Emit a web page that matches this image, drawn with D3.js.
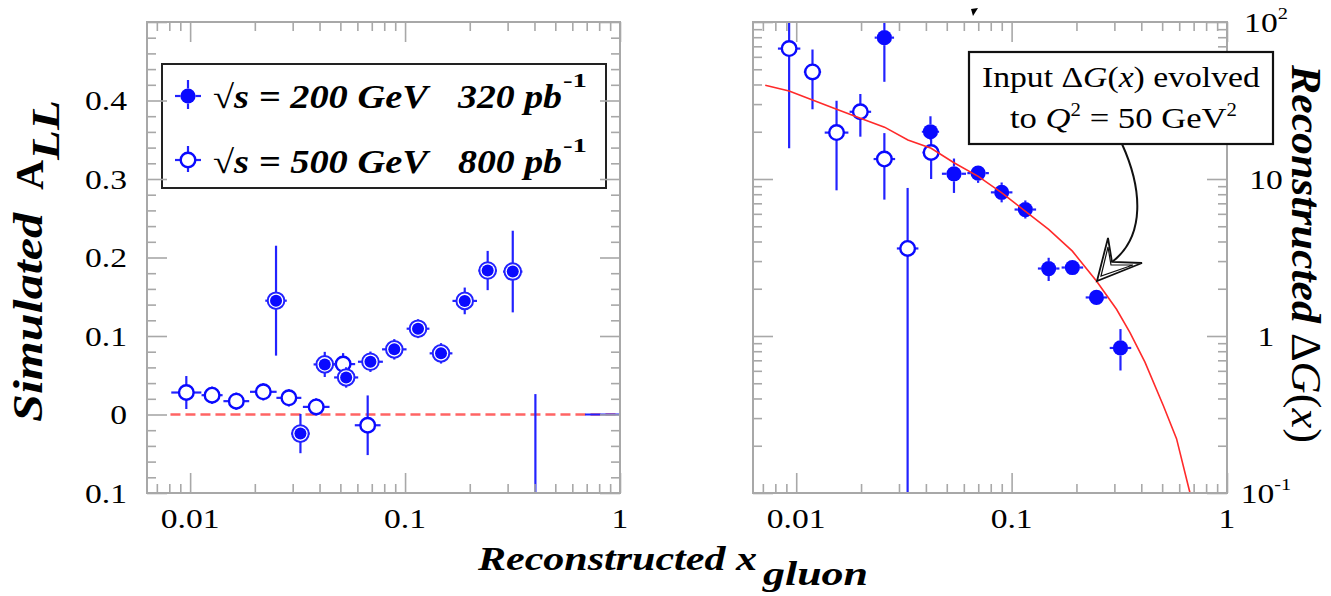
<!DOCTYPE html>
<html>
<head>
<meta charset="utf-8">
<script src="https://d3js.org/d3.v7.min.js"></script>
<style>
body { margin: 0; background: #fff; }
text { font-family: "Liberation Serif", "DejaVu Serif", serif; fill: #000; }
</style>
</head>
<body>
<div id="chart"></div>
<script>
// ---------- data ----------
// left panel : simulated A_LL vs reconstructed x_gluon
const allX200  = [0.0251, 0.0326, 0.0423, 0.0532, 0.069, 0.0891, 0.1149, 0.147, 0.1895, 0.2423, 0.317]
const allY200  = [0.145, -0.0243, 0.0638, 0.0472, 0.0672, 0.083, 0.1093, 0.0779, 0.1447, 0.1834, 0.1821]
const allE200  = [0.070, 0.025, 0.016, 0.013, 0.013, 0.013, 0.012, 0.013, 0.017, 0.025, 0.052]
const allXE200 = [0.05, 0.043, 0.052, 0.056, 0.058, 0.057, 0.053, 0.053, 0.057, 0.043, 0.045]   // half bin width, dex

const allX500  = [0.0096, 0.01265, 0.0164, 0.0219, 0.0288, 0.0386, 0.0515, 0.067, 0.404, 1.3]
const allY500  = [0.028, 0.0246, 0.017, 0.0289, 0.0212, 0.0097, 0.0642, -0.0137, -0.2, 0]
const allE500  = [0.021, 0.011, 0.011, 0.011, 0.011, 0.011, 0.014, 0.038, 0.226, 0]
const allXE500 = [0.07, 0.049, 0.06, 0.062, 0.058, 0.062, 0.056, 0.06, 0, 0.277]

// right panel : reconstructed Delta G(x)
const dgX200  = [0.02566, 0.042, 0.054, 0.0699, 0.0899, 0.1158, 0.1486, 0.1915, 0.2477, 0.3202]
const dgY200  = [79.5, 20.0, 10.8, 10.9, 8.22, 6.39, 2.69, 2.73, 1.76, 0.839]
const dgLo200 = [41.6, 17.7, 8.15, 9.45, 7.1, 5.6, 2.24, 2.6, 1.68, 0.603]
const dgHi200 = [150, 25.1, 13.5, 12.0, 9.5, 7.3, 3.15, 2.9, 1.85, 1.107]
const dgXE200 = [0.045, 0.04, 0.056, 0.05, 0.05, 0.05, 0.05, 0.05, 0.05, 0.05]

const dgX500  = [0.00927, 0.0119, 0.01539, 0.01985, 0.02566, 0.0329, 0.0423]
const dgY500  = [67.7, 48.1, 19.75, 26.8, 13.4, 3.61, 14.75]
const dgLo500 = [15.7, 27.8, 8.47, 18.6, 7.39, 0.01, 10.0]
const dgHi500 = [150, 66.8, 31.5, 34.8, 19.6, 8.77, 18.5]
const dgXE500 = [0.052, 0.04, 0.055, 0.05, 0.05, 0.05, 0.04]

// input Delta G(x) evolved to Q^2 = 50 GeV^2
const curveX = [0.00718, 0.00927, 0.0119, 0.0154, 0.01985, 0.0257, 0.033, 0.0423, 0.054, 0.070, 0.0901, 0.116, 0.1486, 0.1915, 0.2477, 0.307, 0.354, 0.416, 0.506, 0.583, 0.668, 0.68]
const curveY = [39.6, 36.3, 31.8, 27.8, 24.4, 21.4, 17.7, 15.7, 12.7, 10.4, 8.15, 6.23, 4.77, 3.47, 2.24, 1.48, 1.055, 0.681, 0.361, 0.222, 0.1045, 0.095]

// tick labels
const xLabelVals = [0.01, 0.1, 1]
const xLabels    = ['0.01', '0.1', '1']
const aLabelVals = [-0.1, 0, 0.1, 0.2, 0.3, 0.4]
const aLabels    = ['0.1', '0', '0.1', '0.2', '0.3', '0.4']
const gLabelVals = [100, 10, 1, 0.1]
const gLabels    = ['10', '10', '1', '10']
const gLabelSup  = ['2', '', '', '-1']

// ---------- setup ----------
const width = 1331, height = 596
const blue = '#0a0aff', barBlue = '#2222ff', gray = '#a8a8a8'

const svg = d3.select('#chart').append('svg')
    .attr('width', width)
    .attr('height', height)

const xL = d3.scaleLog().domain([0.0063, 1]).range([147, 620])
const yL = d3.scaleLinear().domain([-0.1, 0.5]).range([493, 22])
const xR = d3.scaleLog().domain([0.0063, 1]).range([753, 1227])
const yR = d3.scaleLog().domain([0.1, 100]).range([493, 22])

const defs = svg.append('defs')
function clip(id, x, y) {
  defs.append('clipPath').attr('id', id).append('rect')
    .attr('x', x.range()[0]).attr('y', y.range()[1])
    .attr('width', x.range()[1] - x.range()[0])
    .attr('height', y.range()[0] - y.range()[1])
}
clip('clipL', xL, yL)
clip('clipR', xR, yR)

const isDecade = v => Math.abs(Math.log10(v) - Math.round(Math.log10(v))) < 1e-6

// fit a text to a given length (the reference fonts are wide)
function fit(parent, x, y, len, build, rot) {
  const g = parent.append('g')
  const t = g.append('text').attr('x', 0).attr('y', 0)
  build(t)
  const w = t.node().getComputedTextLength()
  g.attr('transform', `translate(${x},${y}) rotate(${rot || 0}) scale(${len / w},1)`)
  return g
}

function tickSet(g, axisFn, scale, vals, size, tr) {
  g.append('g').attr('transform', tr)
    .call(axisFn(scale).tickValues(vals).tickSizeInner(-size).tickSizeOuter(0).tickFormat(''))
    .call(a => a.select('.domain').remove())
    .call(a => a.selectAll('line').attr('stroke', gray).attr('stroke-width', 1.6))
}

function frame(g, x, y, yMinor, yMajor) {
  const xt = x.ticks()
  const xMin = xt.filter(v => !isDecade(v)), xMaj = xt.filter(isDecade)
  const [x0, x1] = x.range(), [y1, y0] = y.range()
  tickSet(g, d3.axisBottom, x, xMin, 9, `translate(0,${y1})`)
  tickSet(g, d3.axisBottom, x, xMaj, 20, `translate(0,${y1})`)
  tickSet(g, d3.axisTop, x, xMin, 9, `translate(0,${y0})`)
  tickSet(g, d3.axisTop, x, xMaj, 20, `translate(0,${y0})`)
  tickSet(g, d3.axisLeft, y, yMinor, 9, `translate(${x0},0)`)
  tickSet(g, d3.axisLeft, y, yMajor, 20, `translate(${x0},0)`)
  tickSet(g, d3.axisRight, y, yMinor, 9, `translate(${x1},0)`)
  tickSet(g, d3.axisRight, y, yMajor, 20, `translate(${x1},0)`)
  g.append('rect')
    .attr('x', x0).attr('y', y0).attr('width', x1 - x0).attr('height', y1 - y0)
    .attr('fill', 'none').attr('stroke', gray).attr('stroke-width', 2)
  // x tick labels
  xLabelVals.forEach((v, i) => {
    g.append('g').attr('transform', `translate(${x(v)},${y1 + 35}) scale(1.2,1)`)
      .append('text').attr('text-anchor', 'middle').attr('font-size', 28).text(xLabels[i])
  })
}

function point(g, cx, cy, yTop, yBot, xLeft, xRight, type) {
  const r = type === 'ring' ? 8.5 : 7.5
  const seg = (a, b, c, d) => g.append('line')
    .attr('x1', a).attr('y1', b).attr('x2', c).attr('y2', d)
    .attr('stroke', barBlue).attr('stroke-width', 2.2)
  if (cy - yTop > r) seg(cx, cy - r, cx, yTop)
  if (yBot - cy > r) seg(cx, cy + r, cx, yBot)
  if (cx - xLeft > r) seg(cx - r, cy, xLeft, cy)
  if (xRight - cx > r) seg(cx + r, cy, xRight, cy)
  if (type === 'ring') {
    g.append('circle').attr('cx', cx).attr('cy', cy).attr('r', 8.3)
      .attr('fill', '#fff').attr('stroke', barBlue).attr('stroke-width', 2)
    g.append('circle').attr('cx', cx).attr('cy', cy).attr('r', 6).attr('fill', blue)
  } else if (type === 'open') {
    g.append('circle').attr('cx', cx).attr('cy', cy).attr('r', 7.3)
      .attr('fill', 'none').attr('stroke', blue).attr('stroke-width', 2.4)
  } else {
    g.append('circle').attr('cx', cx).attr('cy', cy).attr('r', 7.6).attr('fill', blue)
  }
}

// ---------- left panel ----------
const left = svg.append('g')

// legend
left.append('rect').attr('x', 162).attr('y', 64).attr('width', 444).attr('height', 124)
  .attr('fill', '#fff').attr('stroke', '#222').attr('stroke-width', 2)
point(left, 188, 96, 80, 109, 175, 201, 'dot')
point(left, 188, 160, 146, 172, 175, 201, 'open')
const legRows = [['200', '320', 108, 87], ['500', '800', 173, 152]]
legRows.forEach(([e, l, base, sup]) => {
  fit(left, 213, base, 215, t => {
    t.attr('font-size', 33).attr('font-weight', 'bold').attr('font-style', 'italic')
    t.append('tspan').attr('font-style', 'normal').attr('font-weight', 'normal').text('\u221A')
    t.append('tspan').text('s = ' + e + ' GeV')
  })
  fit(left, 458, base, 104, t => t.attr('font-size', 33).attr('font-weight', 'bold')
    .attr('font-style', 'italic').text(l + ' pb'))
  fit(left, 563, sup, 24, t => t.attr('font-size', 19).attr('font-weight', 'bold').text('-1'))
})

const lData = left.append('g').attr('clip-path', 'url(#clipL)')
lData.append('line')
  .attr('x1', xL(0.0081)).attr('x2', xL(1)).attr('y1', yL(0)).attr('y2', yL(0))
  .attr('stroke', '#ff6464').attr('stroke-width', 2.5).attr('stroke-dasharray', '10,5')
allX500.forEach((x, i) => point(lData, xL(x), yL(allY500[i]),
  yL(allY500[i] + allE500[i]), yL(allY500[i] - allE500[i]),
  xL(x / Math.pow(10, allXE500[i])), xL(x * Math.pow(10, allXE500[i])), 'open'))
allX200.forEach((x, i) => point(lData, xL(x), yL(allY200[i]),
  yL(allY200[i] + allE200[i]), yL(allY200[i] - allE200[i]),
  xL(x / Math.pow(10, allXE200[i])), xL(x * Math.pow(10, allXE200[i])), 'ring'))

const aT = yL.ticks(30)
frame(left, xL, yL, aT.filter(v => Math.abs(v * 10 - Math.round(v * 10)) > 1e-6),
  aT.filter(v => Math.abs(v * 10 - Math.round(v * 10)) < 1e-6))
aLabelVals.forEach((v, i) => {
  left.append('g').attr('transform', `translate(127,${yL(v) + 9.5}) scale(1.2,1)`)
    .append('text').attr('text-anchor', 'end').attr('font-size', 28).text(aLabels[i])
})

// left axis title
fit(left, 42, 422, 209, t => t.attr('font-size', 42).attr('font-weight', 'bold')
  .attr('font-style', 'italic').text('Simulated'), -90)
fit(left, 43, 190, 30, t => t.attr('font-size', 40).attr('font-weight', 'bold').text('A'), -90)
fit(left, 59, 160, 60, t => t.attr('font-size', 40).attr('font-weight', 'bold')
  .attr('font-style', 'italic').text('LL'), -90)

// bottom title
fit(svg, 478, 570, 279, t => t.attr('font-size', 34).attr('font-weight', 'bold')
  .attr('font-style', 'italic').text('Reconstructed x'))
fit(svg, 763, 585, 105, t => t.attr('font-size', 34).attr('font-weight', 'bold')
  .attr('font-style', 'italic').text('gluon'))

// ---------- right panel ----------
const right = svg.append('g')
const rData = right.append('g').attr('clip-path', 'url(#clipR)')
dgX500.forEach((x, i) => point(rData, xR(x), yR(dgY500[i]), yR(dgHi500[i]), yR(dgLo500[i]),
  xR(x / Math.pow(10, dgXE500[i])), xR(x * Math.pow(10, dgXE500[i])), 'open'))
dgX200.forEach((x, i) => point(rData, xR(x), yR(dgY200[i]), yR(dgHi200[i]), yR(dgLo200[i]),
  xR(x / Math.pow(10, dgXE200[i])), xR(x * Math.pow(10, dgXE200[i])), 'dot'))

const curve = d3.line().x(d => xR(d[0])).y(d => yR(d[1]))
rData.append('path')
  .datum(curveX.map((x, i) => [x, curveY[i]]))
  .attr('d', curve)
  .attr('fill', 'none').attr('stroke', '#ff2a2a').attr('stroke-width', 1.6)

const gT = yR.ticks()
frame(right, xR, yR, gT.filter(v => !isDecade(v)), gT.filter(isDecade))
gLabelVals.forEach((v, i) => {
  const t = right.append('g').attr('transform', `translate(1266,${yR(v) + 10}) scale(1.2,1)`)
    .append('text').attr('text-anchor', 'middle').attr('font-size', 28)
  t.append('tspan').text(gLabels[i])
  if (gLabelSup[i]) t.append('tspan').attr('dy', -13).attr('font-size', 17).text(gLabelSup[i])
})

// right axis title
fit(right, 1292, 65, 258, t => t.attr('font-size', 42).attr('font-weight', 'bold')
  .attr('font-style', 'italic').text('Reconstructed'), 90)
fit(right, 1292, 333, 110, t => {
  t.attr('font-size', 42)
  t.append('tspan').text('\u0394')
  t.append('tspan').attr('font-style', 'italic').text('G')
  t.append('tspan').text('(')
  t.append('tspan').attr('font-style', 'italic').text('x')
  t.append('tspan').text(')')
}, 90)

// annotation box and arrow
right.append('rect').attr('x', 969).attr('y', 52).attr('width', 304).attr('height', 92)
  .attr('fill', '#fff').attr('stroke', '#111').attr('stroke-width', 2.2)
fit(right, 982, 87, 278, t => {
  t.attr('font-size', 30)
  t.append('tspan').text('Input \u0394')
  t.append('tspan').attr('font-style', 'italic').text('G')
  t.append('tspan').text('(')
  t.append('tspan').attr('font-style', 'italic').text('x')
  t.append('tspan').text(') evolved')
})
fit(right, 1010, 128, 227, t => {
  t.attr('font-size', 30)
  t.append('tspan').text('to ')
  t.append('tspan').attr('font-style', 'italic').text('Q')
  t.append('tspan').attr('dy', -12).attr('font-size', 18).text('2')
  t.append('tspan').attr('dy', 12).text(' = 50 GeV')
  t.append('tspan').attr('dy', -12).attr('font-size', 18).text('2')
})
right.append('path')
  .attr('d', 'M1122,144 C1142,188 1146,236 1112,262')
  .attr('fill', 'none').attr('stroke', '#111').attr('stroke-width', 2)
right.append('path')
  .attr('d', 'M1097,281 L1108,238 L1112,262 L1142,263 Z')
  .attr('fill', '#fff').attr('stroke', '#111').attr('stroke-width', 1.8).attr('stroke-linejoin', 'miter')
right.append('path')
  .attr('d', 'M1101,276 L1108,247 L1111,265 L1133,265 Z')
  .attr('fill', 'none').attr('stroke', '#111').attr('stroke-width', 1.2)

// small mark at the top of the right frame
right.append('path').attr('d', 'M971,9 L978,8 L973,16 Z').attr('fill', '#000')
</script>
</body>
</html>
